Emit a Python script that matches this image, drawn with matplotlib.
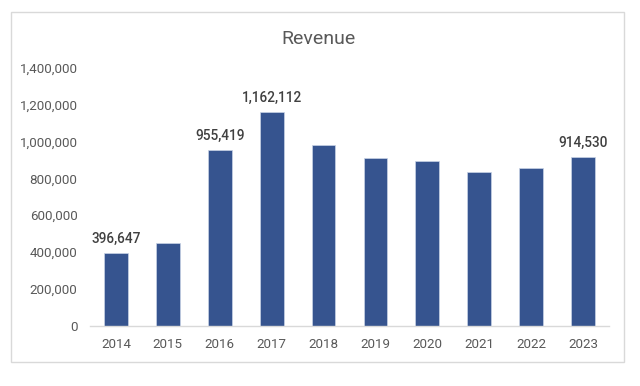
import matplotlib
matplotlib.use("Agg")
import matplotlib.pyplot as plt
from matplotlib.patches import Rectangle
from matplotlib.ticker import FuncFormatter

years = ["2014", "2015", "2016", "2017", "2018", "2019", "2020", "2021", "2022", "2023"]
revenue = [396647, 447000, 955419, 1162112, 982000, 910000, 892000, 834000, 858000, 914530]
labeled = {"2014", "2016", "2017", "2023"}
yticks = [0, 200000, 400000, 600000, 800000, 1000000, 1200000, 1400000]

plt.rcParams['font.family'] = ['Roboto', 'DejaVu Sans']
text_gray = "#595959"
bar_color = "#36548F"

fig = plt.figure(figsize=(6.4, 3.86), dpi=100)
fig.patch.set_facecolor("white")
fig.patches.append(Rectangle((0.0175, 0.0614), 0.958, 0.9066, transform=fig.transFigure,
                             fill=False, edgecolor="#D9D9D9", linewidth=1.0))

ax = fig.add_axes([0.1406, 0.1562, 0.8110, 0.6684])
x = list(range(len(years)))
ax.bar(x, revenue, width=0.46, color=bar_color, edgecolor="#C9D3E6", linewidth=0.5, zorder=2)
ax.set_xlim(-0.5, len(years) - 0.5)
ax.set_ylim(0, 1400000)
ax.set_yticks(yticks)
ax.yaxis.set_major_formatter(FuncFormatter(lambda v, p: f"{int(v):,}"))
ax.set_xticks(x)
ax.set_xticklabels(years)
for s in ["top", "right", "left"]:
    ax.spines[s].set_visible(False)
ax.spines["bottom"].set_color("#D9D9D9")
ax.spines["bottom"].set_linewidth(1.0)
ax.tick_params(axis="both", length=0, labelsize=9.6, colors=text_gray)
ax.tick_params(axis="y", pad=9)
ax.tick_params(axis="x", pad=9)

for xi, yr, v in zip(x, years, revenue):
    if yr in labeled:
        ax.annotate(f"{v:,}", (xi, v), xytext=(0, 5), textcoords="offset points",
                    ha="center", va="bottom", fontsize=9.8, color="#404040",
                    fontweight="medium")

fig.text(0.497, 0.90, "Revenue", ha="center", va="center", fontsize=14, color=text_gray)

fig.savefig("out.png", dpi=100, facecolor="white")
